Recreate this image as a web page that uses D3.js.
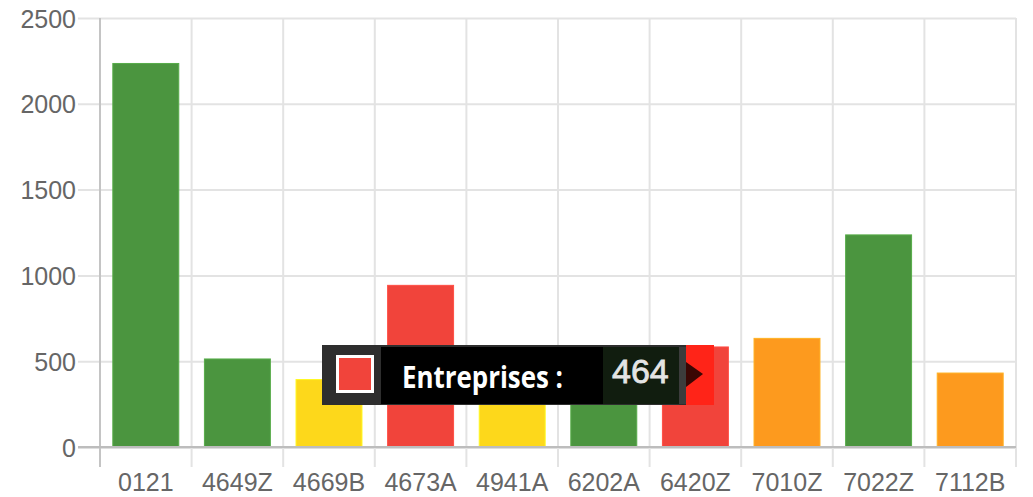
<!DOCTYPE html>
<html>
<head>
<meta charset="utf-8">
<script src="https://cdn.jsdelivr.net/npm/d3@7"></script>
<style>
  html, body { margin: 0; padding: 0; background: #fff; }
  svg { display: block; }
</style>
</head>
<body>
<svg id="chart"></svg>
<script>
// codes NAF + nb entreprises
var categories = ['0121', '4649Z', '4669B', '4673A', '4941A', '6202A', '6420Z', '7010Z', '7022Z', '7112B'];
var values = [2235, 513, 393, 942, 450, 470, 583, 633, 1236, 431];
var yTicks = [0, 500, 1000, 1500, 2000, 2500];
// couleur par barre
var barColors = ['#4b953f', '#4b953f', '#fdd81b', '#f1443b', '#fdd81b', '#4b953f', '#f1443b', '#fd9a1e', '#4b953f', '#fd9a1e'];
var tipLabel = 'Entreprises :';
var tipValue = 464;

var width = 1033, height = 497;
// attention: "top" est deja pris par window.top
var plotLeft = 100, plotRight = 1016, plotTop = 18, plotBottom = 447;

var svg = d3.select('#chart')
  .attr('width', width)
  .attr('height', height);

var x = d3.scaleBand()
  .domain(categories)
  .range([plotLeft, plotRight])
  .paddingInner(0.28)
  .paddingOuter(0.14);

var y = d3.scaleLinear()
  .domain([0, 2500])
  .range([plotBottom, plotTop]);

var step = x.step();
var half = step * 0.28 / 2;

// grille horizontale
var yAxis = d3.axisLeft(y)
  .tickValues(yTicks)
  .tickSize(-(plotRight - plotLeft))
  .tickPadding(24);

var gy = svg.append('g')
  .attr('transform', 'translate(' + plotLeft + ',0)')
  .call(yAxis);
gy.select('.domain').remove();
gy.selectAll('.tick line')
  .attr('x1', -22)
  .attr('stroke', function (d) { return d === 0 ? '#bdbdbd' : '#e3e3e3'; })
  .attr('stroke-width', 2);
gy.selectAll('.tick text')
  .attr('font-family', 'Liberation Sans, Arial, sans-serif')
  .attr('font-size', 25)
  .attr('fill', '#666')
  .attr('dy', '0.36em')
  .attr('x', -24)
  .text(function (d) { return d; });

// grille verticale (bords des categories)
var edges = categories.map(function (c) { return x(c) - half; });
edges.push(x(categories[categories.length - 1]) + x.bandwidth() + half);

svg.append('g').selectAll('line')
  .data(edges)
  .enter()
  .append('line')
  .attr('x1', function (d) { return d; })
  .attr('x2', function (d) { return d; })
  .attr('y1', plotTop)
  .attr('y2', plotBottom + 20)
  .attr('stroke', function (d, i) { return i === 0 ? '#c4c4c4' : '#e3e3e3'; })
  .attr('stroke-width', 2);

// labels axe x
var xAxis = d3.axisBottom(x).tickSize(0).tickPadding(26);
var gx = svg.append('g')
  .attr('transform', 'translate(0,' + plotBottom + ')')
  .call(xAxis);
gx.select('.domain').remove();
gx.selectAll('.tick text')
  .attr('font-family', 'Liberation Sans, Arial, sans-serif')
  .attr('font-size', 25)
  .attr('fill', '#666');

// barres
svg.append('g').selectAll('rect')
  .data(values)
  .enter()
  .append('rect')
  .attr('x', function (d, i) { return x(categories[i]); })
  .attr('y', function (d) { return y(d); })
  .attr('width', x.bandwidth())
  .attr('height', function (d) { return plotBottom - y(d); })
  .attr('fill', function (d, i) { return barColors[i]; })
  .attr('stroke', function (d, i) { return d3.color(barColors[i]).brighter(0.4); })
  .attr('stroke-width', 1);

// ligne zero par dessus
svg.append('line')
  .attr('x1', plotLeft - 22).attr('x2', plotRight)
  .attr('y1', plotBottom).attr('y2', plotBottom)
  .attr('stroke', '#bdbdbd').attr('stroke-width', 2);

// tooltip (colle par dessus)
var tip = svg.append('g').attr('transform', 'translate(322,345)');
tip.append('rect').attr('x', 363).attr('y', 0).attr('width', 29).attr('height', 60).attr('fill', '#ff2418');
tip.append('rect').attr('x', 0).attr('y', 0).attr('width', 364).attr('height', 60).attr('fill', '#2e2e2e');
tip.append('path').attr('d', 'M364,17 L381,29 L364,42 Z').attr('fill', '#3a0704');
tip.append('rect').attr('x', 14).attr('y', 10).attr('width', 38).attr('height', 38).attr('fill', '#fff');
tip.append('rect').attr('x', 17).attr('y', 13).attr('width', 32).attr('height', 32).attr('fill', '#f1443b');
tip.append('rect').attr('x', 59).attr('y', 2).attr('width', 222).attr('height', 57).attr('fill', '#000');
tip.append('rect').attr('x', 281).attr('y', 2).attr('width', 76).attr('height', 57).attr('fill', '#111d0f');
tip.append('rect').attr('x', 357).attr('y', 2).attr('width', 7).attr('height', 57).attr('fill', '#3c3c3c');
tip.append('text')
  .attr('x', 80).attr('y', 43)
  .attr('font-family', 'Open Sans, sans-serif')
  .attr('font-weight', 'bold')
  .attr('font-size', 30)
  .attr('textLength', 161)
  .attr('lengthAdjust', 'spacingAndGlyphs')
  .attr('fill', '#fff')
  .text(tipLabel);
tip.append('text')
  .attr('x', 290).attr('y', 38)
  .attr('font-family', 'Liberation Sans, Arial, sans-serif')
  .attr('font-size', 34)
  .attr('fill', '#e4e4e4')
  .attr('stroke', '#e4e4e4')
  .attr('stroke-width', 0.8)
  .text(tipValue);
</script>
</body>
</html>
